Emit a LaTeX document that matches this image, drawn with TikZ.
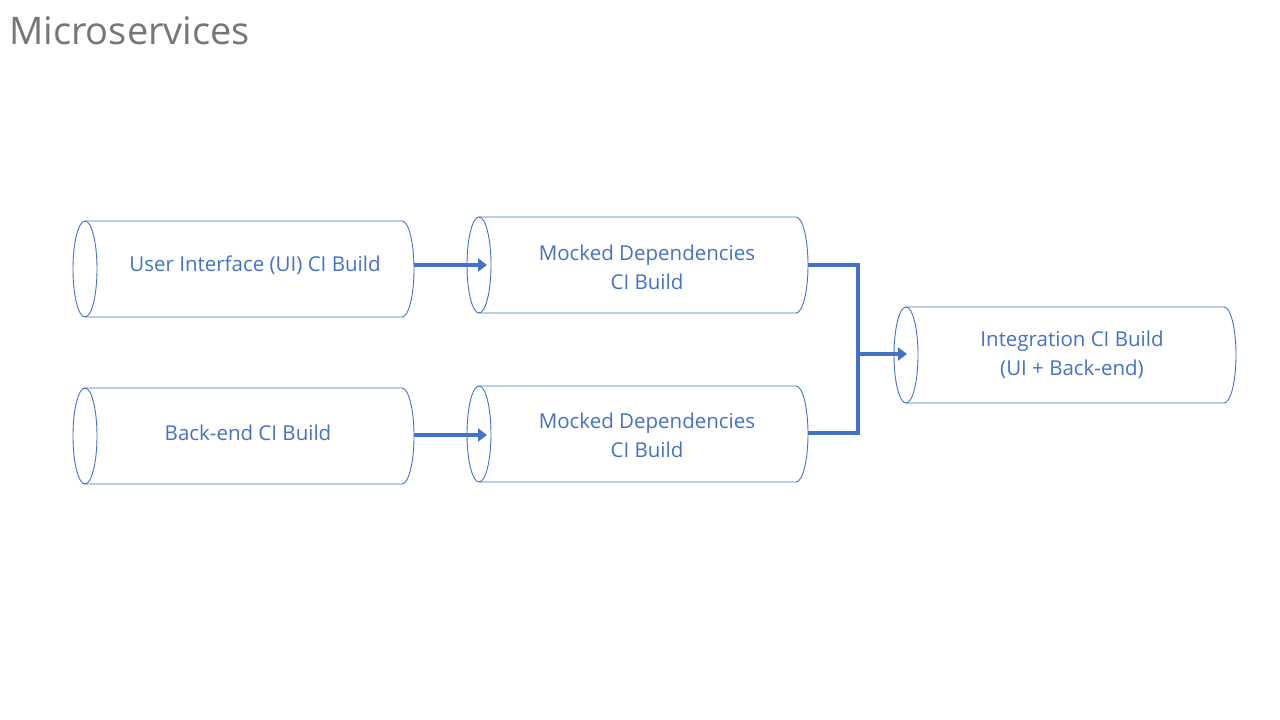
\documentclass[tikz,border=0pt]{standalone}
\usepackage{fontspec}
\setmainfont{Open Sans}
\usetikzlibrary{arrows.meta}
\definecolor{cblue}{HTML}{4472C4}
\definecolor{tgray}{HTML}{767676}
\tikzset{
  cylbody/.style={inner sep=0pt, outer sep=0pt, minimum height=96pt},
  cyltext/.style={text=cblue, font=\fontsize{20.5}{29}\selectfont, align=center, inner sep=0pt},
  outline/.style={draw=cblue, line width=0.9pt},
  flow/.style={draw=cblue, line width=3.6pt},
  flowarrow/.style={flow, -{Triangle[length=9pt,width=13pt]}}
}
\newcommand{\cylout}[1]{%
  \draw[outline] (#1.west) ellipse [x radius=12pt, y radius=48pt];
  \draw[outline] (#1.north west) -- (#1.north east)
     arc[start angle=90, end angle=-90, x radius=12pt, y radius=48pt] -- (#1.south west);
}
\begin{document}
\begin{tikzpicture}[x=1pt,y=1pt]
\useasboundingbox[fill=white] (0,0) rectangle (1280,720);
\node[anchor=base west, text=tgray, font=\fontsize{38}{44}\selectfont, inner sep=0pt] (title) at (9,675) {Microservices};

\node[cylbody, minimum width=317pt] (c1) at (243.5,451) {};
\node[cylbody, minimum width=317pt] (c2) at (637.5,455) {};
\node[cylbody, minimum width=317pt] (c3) at (243.5,284) {};
\node[cylbody, minimum width=317pt] (c4) at (637.5,286) {};
\node[cylbody, minimum width=318pt] (c5) at (1065,365) {};
\cylout{c1}\cylout{c2}\cylout{c3}\cylout{c4}\cylout{c5}

\node[cyltext] (t1) at (255,455) {User Interface (UI) CI Build};
\node[cyltext] (t2) at (647,452.5) {Mocked Dependencies\\CI Build};
\node[cyltext] (t3) at (248,287) {Back-end CI Build};
\node[cyltext] (t4) at (647,284.5) {Mocked Dependencies\\CI Build};
\node[cyltext] (t5) at (1072,365) {Integration CI Build\\(UI + Back-end)};

\coordinate (a1) at (414,455);
\coordinate (a2) at (414,285);
\coordinate (j1) at (858,455);
\coordinate (j2) at (858,287);
\coordinate (jm) at (858,366);

\draw[flowarrow] (a1) -- ([xshift=8pt]c2.west |- a1);
\draw[flowarrow] (a2) -- ([xshift=8pt]c4.west |- a2);
\draw[flow] ([xshift=12pt]c2.east) -- (j1) -- (j2) -- ([xshift=12pt]c4.east |- j2);
\draw[flowarrow] (jm) -- ([xshift=1pt]c5.west |- jm);
\end{tikzpicture}
\end{document}
